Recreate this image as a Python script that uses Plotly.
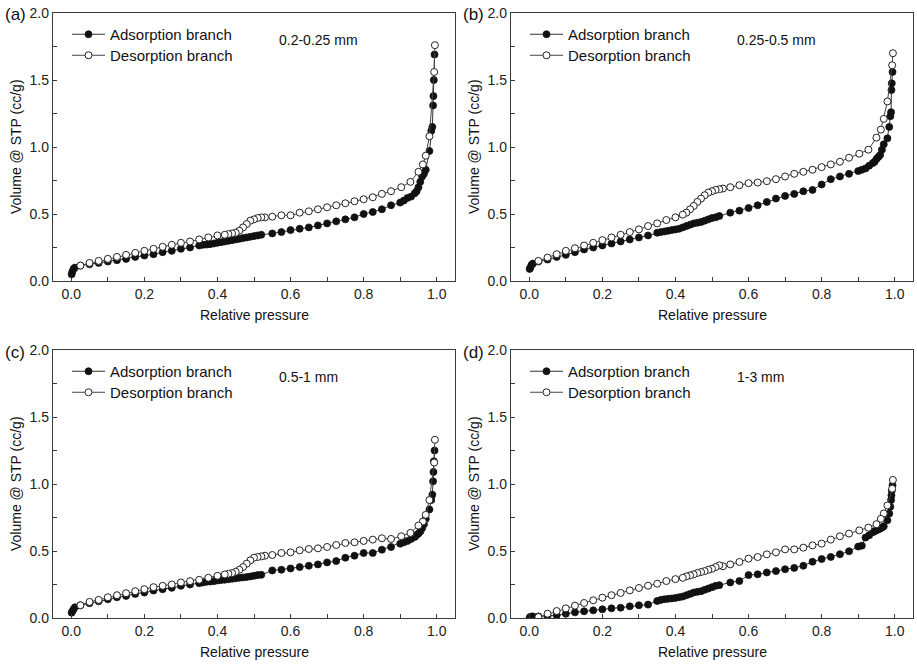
import plotly.graph_objects as go

# ---------------- data ----------------
P_ADS = [0.001, 0.003, 0.006, 0.01,
         0.025, 0.05, 0.075, 0.1, 0.125, 0.15, 0.175, 0.2, 0.225, 0.25, 0.275, 0.3, 0.325, 0.35,
         0.36, 0.37, 0.38, 0.39, 0.40, 0.41, 0.42, 0.43, 0.44, 0.45, 0.46, 0.47, 0.48, 0.49, 0.50, 0.51, 0.52,
         0.55, 0.575, 0.6, 0.625, 0.65, 0.675, 0.7, 0.725, 0.75, 0.775, 0.8, 0.825, 0.85, 0.875, 0.9,
         0.91, 0.92, 0.93, 0.94, 0.945, 0.95, 0.955, 0.96, 0.965, 0.97, 0.98,
         0.985, 0.988, 0.99, 0.991, 0.992, 0.994]

P_DES = [0.995, 0.993, 0.98, 0.97, 0.962, 0.95, 0.928, 0.903,
         0.875, 0.85, 0.825, 0.8, 0.775, 0.75, 0.725, 0.7, 0.675, 0.65, 0.625, 0.6, 0.575, 0.55,
         0.53, 0.52, 0.51, 0.50, 0.49, 0.48, 0.47, 0.46, 0.45, 0.44, 0.43, 0.42,
         0.40, 0.375, 0.35, 0.325, 0.3, 0.275, 0.25, 0.225, 0.2, 0.175, 0.15, 0.125, 0.1, 0.075, 0.05, 0.025]

ADS_A = [0.05, 0.07, 0.09, 0.10,
         0.115, 0.125, 0.135, 0.145, 0.155, 0.165, 0.18, 0.19, 0.20, 0.215, 0.225, 0.24, 0.25, 0.265,
         0.27, 0.272, 0.275, 0.28, 0.285, 0.29, 0.295, 0.30, 0.305, 0.31, 0.315, 0.32, 0.325, 0.33, 0.335, 0.34, 0.345,
         0.355, 0.365, 0.38, 0.39, 0.40, 0.415, 0.43, 0.445, 0.46, 0.475, 0.50, 0.515, 0.535, 0.565, 0.585,
         0.60, 0.62, 0.63, 0.655, 0.67, 0.70, 0.74, 0.78, 0.80, 0.83, 0.97,
         1.12, 1.15, 1.31, 1.38, 1.50, 1.69]
DES_A = [1.76, 1.56, 1.08, 0.935, 0.87, 0.815, 0.74, 0.70,
         0.67, 0.65, 0.625, 0.61, 0.595, 0.58, 0.565, 0.55, 0.535, 0.52, 0.51, 0.49, 0.49, 0.48,
         0.475, 0.475, 0.47, 0.46, 0.45, 0.425, 0.40, 0.375, 0.36, 0.355, 0.35, 0.345,
         0.34, 0.325, 0.31, 0.295, 0.285, 0.27, 0.255, 0.24, 0.225, 0.21, 0.195, 0.18, 0.165, 0.15, 0.135, 0.115]

ADS_B = [0.09, 0.10, 0.12, 0.13,
         0.145, 0.16, 0.18, 0.195, 0.215, 0.235, 0.25, 0.265, 0.28, 0.295, 0.31, 0.325, 0.34, 0.36,
         0.365, 0.37, 0.375, 0.38, 0.385, 0.39, 0.40, 0.41, 0.42, 0.43, 0.435, 0.44, 0.45, 0.46, 0.47, 0.475, 0.485,
         0.51, 0.525, 0.545, 0.565, 0.59, 0.615, 0.635, 0.65, 0.67, 0.68, 0.72, 0.76, 0.78, 0.80, 0.82,
         0.83, 0.84, 0.86, 0.88, 0.89, 0.91, 0.925, 0.94, 0.98, 1.02, 1.065,
         1.15, 1.23, 1.26, 1.425, 1.475, 1.56]
DES_B = [1.70, 1.61, 1.34, 1.21, 1.13, 1.07, 0.98, 0.95,
         0.92, 0.89, 0.87, 0.85, 0.83, 0.815, 0.80, 0.78, 0.76, 0.745, 0.735, 0.73, 0.715, 0.70,
         0.69, 0.685, 0.68, 0.67, 0.66, 0.64, 0.615, 0.59, 0.56, 0.535, 0.51, 0.495,
         0.475, 0.455, 0.43, 0.41, 0.385, 0.365, 0.345, 0.325, 0.305, 0.285, 0.265, 0.245, 0.225, 0.20, 0.175, 0.15]

ADS_C = [0.04, 0.05, 0.065, 0.08,
         0.095, 0.11, 0.125, 0.14, 0.155, 0.165, 0.18, 0.19, 0.205, 0.215, 0.225, 0.24, 0.25, 0.26,
         0.265, 0.27, 0.272, 0.275, 0.28, 0.283, 0.286, 0.29, 0.293, 0.296, 0.30, 0.303, 0.306, 0.31, 0.315, 0.32, 0.322,
         0.355, 0.36, 0.37, 0.38, 0.39, 0.40, 0.415, 0.425, 0.45, 0.465, 0.485, 0.485, 0.51, 0.53, 0.555,
         0.565, 0.575, 0.59, 0.605, 0.62, 0.63, 0.645, 0.67, 0.70, 0.74, 0.81,
         0.88, 0.92, 1.02, 1.09, 1.17, 1.25]
DES_C = [1.33, 1.16, 0.88, 0.77, 0.72, 0.69, 0.635, 0.61,
         0.59, 0.595, 0.585, 0.575, 0.565, 0.56, 0.545, 0.53, 0.52, 0.515, 0.505, 0.49, 0.485, 0.47,
         0.465, 0.46, 0.455, 0.45, 0.43, 0.405, 0.38, 0.36, 0.345, 0.335, 0.33, 0.325,
         0.315, 0.30, 0.285, 0.275, 0.265, 0.25, 0.24, 0.23, 0.215, 0.20, 0.185, 0.17, 0.155, 0.135, 0.12, 0.095]

ADS_D = [0.003, 0.008, 0.01, 0.012,
         0.012, 0.015, 0.02, 0.032, 0.042, 0.05, 0.057, 0.065, 0.072, 0.077, 0.087, 0.095, 0.10, 0.127,
         0.135, 0.14, 0.143, 0.146, 0.15, 0.155, 0.16, 0.17, 0.18, 0.19, 0.195, 0.20, 0.21, 0.22, 0.23, 0.24, 0.245,
         0.265, 0.276, 0.32, 0.326, 0.34, 0.35, 0.364, 0.374, 0.39, 0.42, 0.44, 0.456, 0.476, 0.498, 0.533,
         0.54, 0.60, 0.617, 0.64, 0.648, 0.655, 0.66, 0.667, 0.675, 0.684, 0.73,
         0.78, 0.83, 0.88, 0.915, 0.95, 0.99]
DES_D = [1.03, 0.965, 0.84, 0.78, 0.74, 0.70, 0.674, 0.654,
         0.63, 0.61, 0.585, 0.555, 0.542, 0.525, 0.512, 0.512, 0.49, 0.475, 0.455, 0.443, 0.418, 0.40,
         0.386, 0.393, 0.38, 0.368, 0.36, 0.35, 0.343, 0.336, 0.326, 0.318, 0.311, 0.30,
         0.29, 0.276, 0.256, 0.241, 0.224, 0.206, 0.187, 0.17, 0.152, 0.132, 0.112, 0.092, 0.072, 0.052, 0.032, 0.007]

PANEL_LABELS = ["(a)", "(b)", "(c)", "(d)"]
SIZE_LABELS = ["0.2-0.25 mm", "0.25-0.5 mm", "0.5-1 mm", "1-3 mm"]
SERIES_NAMES = ["Adsorption branch", "Desorption branch"]
ADS = [ADS_A, ADS_B, ADS_C, ADS_D]
DES = [DES_A, DES_B, DES_C, DES_D]
X_TICKS = [0.0, 0.2, 0.4, 0.6, 0.8, 1.0]
Y_TICKS = [0.0, 0.5, 1.0, 1.5, 2.0]

# ---------------- layout geometry ----------------
W, H = 917, 666
FONT = "Arial, 'Liberation Sans', Helvetica, sans-serif"


def fx(px):
    return px / W


def fy(py):
    return 1 - py / H


# plot-area boxes in pixels: (left, right, top, bottom)
BOXES = [(53, 455, 13, 281), (511, 913, 13, 281), (53, 455, 350, 618), (511, 913, 350, 618)]
LEGEND_ROW_OFFSETS = [5, 26]   # legend row tops below plot top (px)

ADS_STYLE = dict(line=dict(color="#333333", width=1),
                 marker=dict(symbol="circle", size=7, color="#111111", line=dict(color="#111111", width=0.8)))
DES_STYLE = dict(line=dict(color="#444444", width=1),
                 marker=dict(symbol="circle", size=7, color="white", line=dict(color="#222222", width=1)))

fig = go.Figure()
annotations = []
layout_extra = {}

for i in range(4):
    l, r, t, b = BOXES[i]
    xa = "x" if i == 0 else f"x{i+1}"
    ya = "y" if i == 0 else f"y{i+1}"
    lg_ads = "legend" if i == 0 else f"legend{2*i+1}"
    lg_des = f"legend{2*i+2}"

    fig.add_trace(go.Scatter(
        x=P_ADS, y=ADS[i], mode="lines+markers", name=SERIES_NAMES[0],
        xaxis=xa, yaxis=ya, legend=lg_ads, **ADS_STYLE,
    ))
    fig.add_trace(go.Scatter(
        x=P_DES, y=DES[i], mode="lines+markers", name=SERIES_NAMES[1],
        xaxis=xa, yaxis=ya, legend=lg_des, **DES_STYLE,
    ))

    axis_common = dict(
        showline=True, linecolor="#3a3a3a", linewidth=1.3, mirror=True,
        showgrid=False, zeroline=False,
        ticks="inside", ticklen=4, tickwidth=1, tickcolor="#3a3a3a",
        tickfont=dict(family=FONT, size=14, color="#222222"),
        tickformat=".1f",
        automargin=False,
    )
    xkey = "xaxis" if i == 0 else f"xaxis{i+1}"
    ykey = "yaxis" if i == 0 else f"yaxis{i+1}"
    layout_extra[xkey] = dict(
        axis_common, domain=[fx(l), fx(r)], range=[-0.05, 1.05], anchor=ya,
        tickmode="array", tickvals=X_TICKS,
        minor=dict(dtick=0.1, tick0=0, ticks="inside", ticklen=4, tickcolor="#3a3a3a", showgrid=False),
    )
    layout_extra[ykey] = dict(
        axis_common, domain=[fy(b), fy(t)], range=[0, 2], anchor=xa,
        tickmode="array", tickvals=Y_TICKS,
        minor=dict(dtick=0.25, tick0=0, ticks="inside", ticklen=4, tickcolor="#3a3a3a", showgrid=False),
    )

    for lg, off in zip([lg_ads, lg_des], LEGEND_ROW_OFFSETS):
        layout_extra[lg] = dict(
            x=fx(l + 14), y=fy(t + off), xanchor="left", yanchor="top",
            bgcolor="rgba(0,0,0,0)", borderwidth=0,
            font=dict(family=FONT, size=15, color="#111111"),
            itemwidth=33,
        )

    # panel letter
    annotations.append(dict(
        text=PANEL_LABELS[i], x=fx(l - 50), y=fy(t + 2), xref="paper", yref="paper",
        xanchor="left", yanchor="middle", showarrow=False,
        font=dict(family=FONT, size=17, color="#111111"),
    ))
    # size range label
    annotations.append(dict(
        text=SIZE_LABELS[i], x=fx(l + 224), y=fy(t + 27), xref="paper", yref="paper",
        xanchor="left", yanchor="middle", showarrow=False,
        font=dict(family=FONT, size=14, color="#111111"),
    ))
    # axis titles
    annotations.append(dict(
        text="Relative pressure", x=fx((l + r) / 2), y=fy(b + 34), xref="paper", yref="paper",
        xanchor="center", yanchor="middle", showarrow=False,
        font=dict(family=FONT, size=14, color="#111111"),
    ))
    annotations.append(dict(
        text="Volume @ STP (cc/g)", x=fx(l - 37), y=fy((t + b) / 2), xref="paper", yref="paper",
        xanchor="center", yanchor="middle", showarrow=False, textangle=-90,
        font=dict(family=FONT, size=14, color="#111111"),
    ))

fig.update_layout(
    width=W, height=H,
    margin=dict(l=0, r=0, t=0, b=0),
    paper_bgcolor="white", plot_bgcolor="white",
    showlegend=True,
    annotations=annotations,
    **layout_extra,
)

fig.write_html("out.html")
